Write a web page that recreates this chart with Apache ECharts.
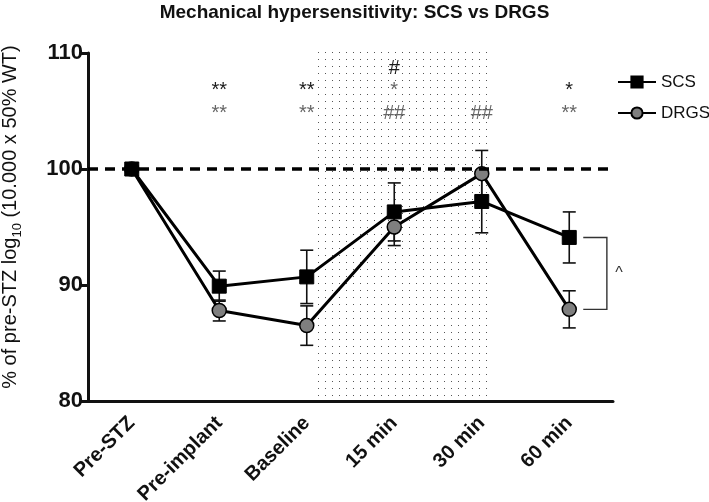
<!DOCTYPE html>
<html>
<head>
<meta charset="utf-8">
<script src="https://cdn.jsdelivr.net/npm/echarts@6/dist/echarts.min.js"></script>
<style>
html,body{margin:0;padding:0;background:#fff;}
#chart{width:709px;height:502px;}
</style>
</head>
<body>
<div id="chart"></div>
<script>
// ---- data ----
const categories = ['Pre-STZ', 'Pre-implant', 'Baseline', '15 min', '30 min', '60 min'];
const scsMean  = [100, 89.9, 90.7, 96.3, 97.2, 94.1];
const scsErr   = [0, 1.3, 2.3, 2.5, 2.7, 2.2];
const drgsMean = [100, 87.8, 86.5, 95.0, 99.6, 87.9];
const drgsErr  = [0, 0.9, 1.7, 1.6, 2.0, 1.6];
const yMin = 80, yMax = 110, yStep = 10;
const referenceLevel = 100;
const stimShade = [2.58, 4.6];          // stimulation period, in category-slot units
const shadeTop = 110.6;
const annotationRows = [108.7, 106.8, 104.8];
// [category index, row, text, series]
const annotations = [
  [1, 1, '**', 'SCS'], [1, 2, '**', 'DRGS'],
  [2, 1, '**', 'SCS'], [2, 2, '**', 'DRGS'],
  [3, 0, '#', 'SCS'], [3, 1, '*', 'DRGS'], [3, 2, '##', 'DRGS'],
  [4, 2, '##', 'DRGS'],
  [5, 1, '*', 'SCS'], [5, 2, '**', 'DRGS']
];
const compareIndex = 5;
const compareMark = '^';

// ---- styles ----
const FONT = 'Liberation Sans, Arial, sans-serif';
const annColor = { SCS: '#1a1a1a', DRGS: '#666666' };

const pat = document.createElement('canvas');
pat.width = 7; pat.height = 7;
(function(){ const c = pat.getContext('2d'); c.fillStyle = '#555555'; c.fillRect(3, 3, 1, 1); })();

const chart = echarts.init(document.getElementById('chart'), null, { renderer: 'canvas' });

function errData(mean, err) { return mean.map((m, i) => [i, m, err[i]]); }
function errRender(params, api) {
  const i = api.value(0), m = api.value(1), e = api.value(2);
  if (!e) return null;
  const t = api.coord([i, m + e]), b = api.coord([i, m - e]);
  const hw = 6.5;
  const st = { stroke: '#111', lineWidth: 1.6 };
  return { type: 'group', children: [
    { type: 'line', shape: { x1: t[0], y1: t[1], x2: b[0], y2: b[1] }, style: st },
    { type: 'line', shape: { x1: t[0] - hw, y1: t[1], x2: t[0] + hw, y2: t[1] }, style: st },
    { type: 'line', shape: { x1: b[0] - hw, y1: b[1], x2: b[0] + hw, y2: b[1] }, style: st }
  ]};
}

const option = {
  animation: false,
  backgroundColor: '#fff',
  title: {
    text: 'Mechanical hypersensitivity: SCS vs DRGS',
    left: 'center', top: 0, padding: [3, 16, 3, 0],
    textStyle: { fontFamily: FONT, fontSize: 19, fontWeight: 'bold', color: '#111' }
  },
  legend: {
    orient: 'vertical', left: 612, top: 68,
    itemWidth: 38, itemHeight: 14, itemGap: 13,
    textStyle: { fontFamily: FONT, fontSize: 17, color: '#111', lineHeight: 18 },
    data: ['SCS', 'DRGS']
  },
  grid: { left: 88, right: 96, top: 53, bottom: 101, containLabel: false, outerBoundsMode: 'none' },
  xAxis: [{
    type: 'category', data: categories, boundaryGap: true,
    axisLine: { lineStyle: { color: '#111', width: 3 } },
    axisTick: { alignWithLabel: true, length: 9, lineStyle: { color: '#111', width: 3 } },
    axisLabel: { rotate: 45, margin: 19, interval: 0, fontFamily: FONT, fontSize: 20, fontWeight: 'bold', color: '#111' },
    splitLine: { show: false }
  }, {
    type: 'value', min: 0, max: 6, show: false
  }],
  yAxis: {
    type: 'value', min: yMin, max: yMax, interval: yStep,
    axisLine: { show: true, lineStyle: { color: '#111', width: 3 } },
    axisTick: { show: true, length: 9, lineStyle: { color: '#111', width: 3 } },
    axisLabel: { margin: 5, fontFamily: FONT, fontSize: 22, fontWeight: 'bold', color: '#111' },
    splitLine: { show: false },
    name: '{a|% of pre-STZ log}{s|10}{a| (10.000 x 50% WT)}',
    nameLocation: 'middle', nameGap: 66, nameRotate: 90,
    nameTextStyle: {
      fontFamily: FONT, color: '#111', padding: [0, 0, 0, 20],
      rich: {
        a: { fontFamily: FONT, fontSize: 20, color: '#111', lineHeight: 24 },
        s: { fontFamily: FONT, fontSize: 13, color: '#111', lineHeight: 24, verticalAlign: 'bottom', padding: [0, 0, -2, 0] }
      }
    }
  },
  series: [
    {
      type: 'custom', name: 'shade', xAxisIndex: 1, z: 0, silent: true, clip: false,
      data: [[stimShade[0], stimShade[1]]],
      renderItem: function (params, api) {
        const p0 = api.coord([api.value(0), shadeTop]);
        const p1 = api.coord([api.value(1), yMin]);
        return { type: 'rect', shape: { x: p0[0], y: p0[1], width: p1[0] - p0[0], height: p1[1] - p0[1] },
          style: { fill: { image: pat, repeat: 'repeat' } } };
      }
    },
    {
      type: 'custom', name: 'scsErr', z: 2, silent: true, clip: false,
      data: errData(scsMean, scsErr), renderItem: errRender
    },
    {
      type: 'custom', name: 'drgsErr', z: 2, silent: true, clip: false,
      data: errData(drgsMean, drgsErr), renderItem: errRender
    },
    {
      name: 'SCS', type: 'line', data: scsMean, z: 5,
      symbol: 'rect', symbolSize: 14,
      itemStyle: { color: '#000', borderColor: '#000', borderWidth: 1 },
      lineStyle: { color: '#000', width: 3 },
      markLine: {
        silent: true, symbol: 'none', label: { show: false },
        lineStyle: { color: '#000', width: 3.5, type: [10, 7] },
        data: [{ yAxis: referenceLevel }]
      }
    },
    {
      name: 'DRGS', type: 'line', data: drgsMean, z: 4,
      symbol: 'circle', symbolSize: 14,
      itemStyle: { color: '#7f7f7f', borderColor: '#000', borderWidth: 1.5 },
      lineStyle: { color: '#000', width: 3 }
    },
    {
      type: 'custom', name: 'annotations', z: 6, silent: true, clip: false,
      data: annotations.map(a => [a[0], annotationRows[a[1]], a[2], a[3]]),
      renderItem: function (params, api) {
        const a = annotations[params.dataIndex];
        const p = api.coord([a[0], annotationRows[a[1]]]);
        return { type: 'text', x: p[0], y: p[1],
          style: { text: a[2], fill: annColor[a[3]], font: '20px ' + FONT, align: 'center', verticalAlign: 'middle' } };
      }
    },
    {
      type: 'custom', name: 'bracket', xAxisIndex: 1, z: 6, silent: true, clip: false,
      data: [[compareIndex + 0.5, scsMean[compareIndex], drgsMean[compareIndex]]],
      renderItem: function (params, api) {
        const x = api.value(0);
        const a = api.coord([x + 0.16, api.value(1)]);
        const b = api.coord([x + 0.43, api.value(1)]);
        const c = api.coord([x + 0.43, api.value(2)]);
        const d = api.coord([x + 0.16, api.value(2)]);
        const m = api.coord([x + 0.57, (api.value(1) + api.value(2)) / 2]);
        return { type: 'group', children: [
          { type: 'polyline', shape: { points: [a, b, c, d] }, style: { stroke: '#333', lineWidth: 1.4, fill: null } },
          { type: 'text', x: m[0], y: m[1], style: { text: compareMark, fill: '#333', font: '16px ' + FONT, align: 'center', verticalAlign: 'middle' } }
        ]};
      }
    }
  ]
};
chart.setOption(option);
</script>
</body>
</html>
